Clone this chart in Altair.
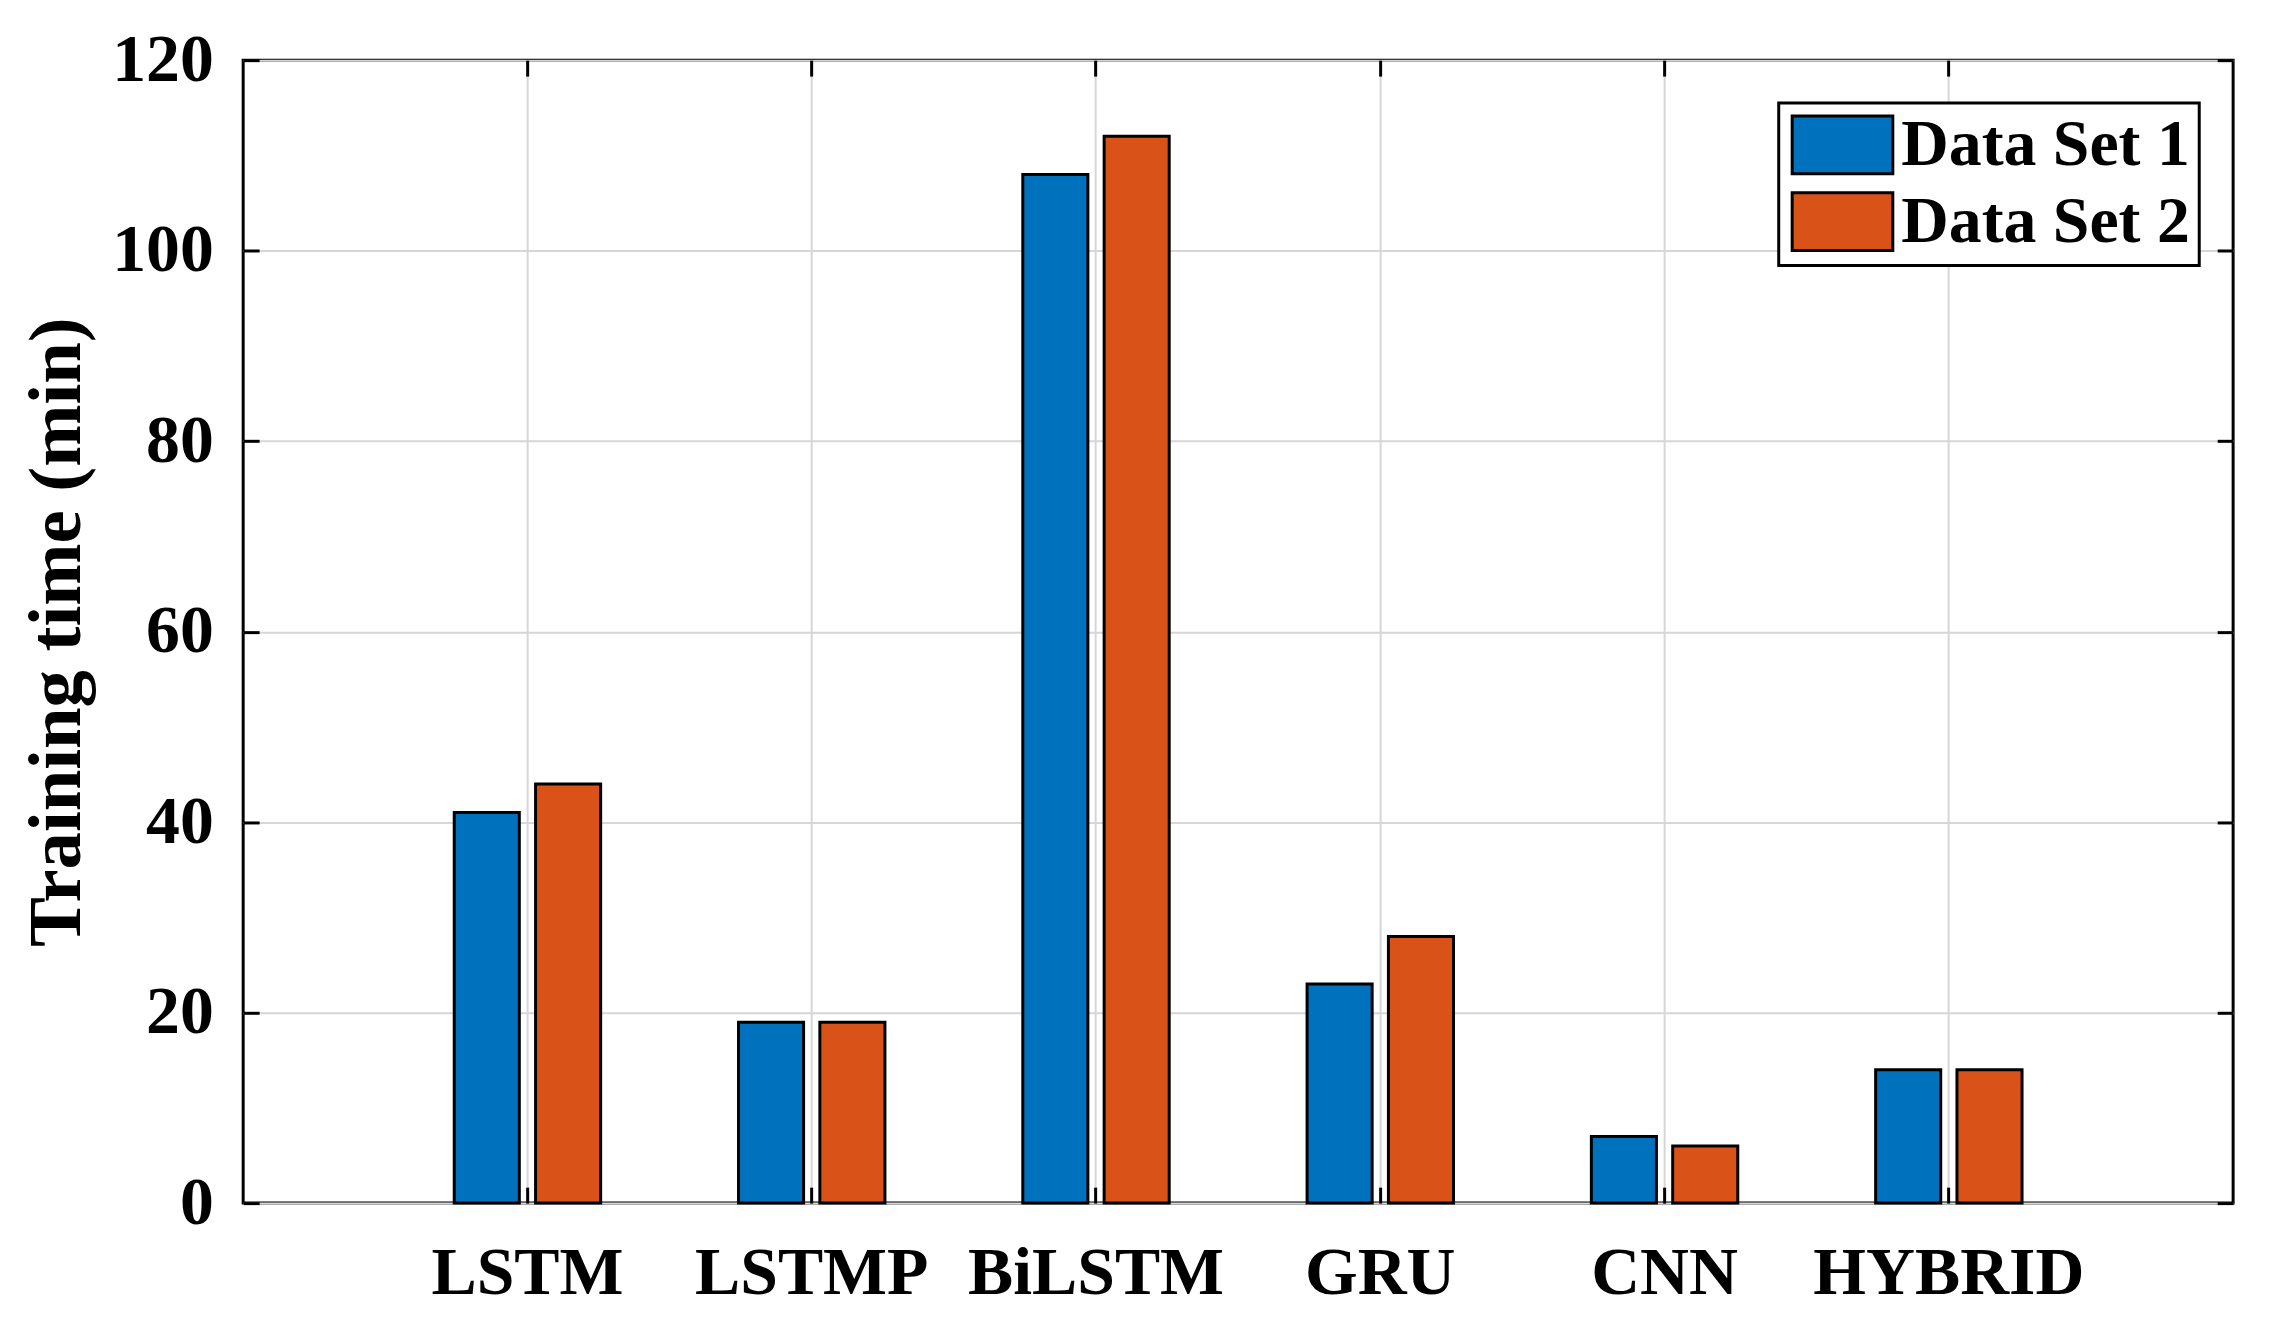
import altair as alt
import pandas as pd

models = ["LSTM", "LSTMP", "BiLSTM", "GRU", "CNN", "HYBRID"]
set1 = [41, 19, 108, 23, 7, 14]
set2 = [44, 19, 112, 28, 6, 14]
series = ["Data Set 1", "Data Set 2"]
colors = ["#0072BD", "#D95319"]
y_ticks = [0, 20, 40, 60, 80, 100, 120]

rows = []
for m, a, b in zip(models, set1, set2):
    rows.append({"model": m, "series": series[0], "value": a})
    rows.append({"model": m, "series": series[1], "value": b})
df = pd.DataFrame(rows)

FONT = "Liberation Serif"
W, H = 1997, 1147
TICK = 16

x_scale = alt.Scale(domain=models, paddingInner=0.485, paddingOuter=0.7425)
y_scale = alt.Scale(domain=[0, 120], nice=False)

bars = alt.Chart(df).mark_bar(stroke="black", strokeWidth=3, opacity=1).encode(
    x=alt.X("model:N", scale=x_scale, sort=models,
            axis=alt.Axis(title=None, labelAngle=0, domain=False, grid=True,
                          gridColor="#d6d6d6", gridWidth=2,
                          ticks=True, tickSize=TICK, tickWidth=3, tickColor="black",
                          offset=-TICK, labelPadding=37, labelLimit=0,
                          labelFont=FONT, labelFontWeight="bold", labelFontSize=68,
                          labelColor="black")),
    xOffset=alt.XOffset("series:N", sort=series,
                        scale=alt.Scale(paddingInner=0.2, paddingOuter=0)),
    y=alt.Y("value:Q", scale=y_scale,
            axis=alt.Axis(title="Training time (min)", values=y_ticks, domain=False,
                          grid=True, gridColor="#d6d6d6", gridWidth=2,
                          ticks=True, tickSize=TICK, tickWidth=3, tickColor="black",
                          offset=-TICK, labelPadding=30, labelLimit=0,
                          labelFont=FONT, labelFontWeight="bold", labelFontSize=68,
                          labelColor="black",
                          titleFont=FONT, titleFontWeight="bold", titleFontSize=75,
                          titleColor="black", titlePadding=16)),
    fill=alt.Fill("series:N", sort=series,
                  scale=alt.Scale(domain=series, range=colors),
                  legend=alt.Legend(title=None, orient="none",
                                    legendX=1541, legendY=43,
                                    strokeColor="black",
                                    fillColor="white", padding=9,
                                    symbolType="M-1.741,-1H1.741V1H-1.741Z",
                                    symbolSize=3364, symbolOffset=22,
                                    symbolStrokeColor="black",
                                    symbolStrokeWidth=3, symbolOpacity=1,
                                    labelFont=FONT, labelFontWeight="bold",
                                    labelFontSize=66, labelColor="black",
                                    labelLimit=0, labelOffset=26, rowPadding=7)),
)

mirror = alt.Chart(df).mark_bar(opacity=0).encode(
    x=alt.X("model:N", scale=x_scale, sort=models,
            axis=alt.Axis(orient="top", title=None, labels=False, domain=False,
                          grid=False, ticks=True, tickSize=TICK, tickWidth=3,
                          tickColor="black", offset=-TICK)),
    y=alt.Y("value:Q", scale=y_scale,
            axis=alt.Axis(orient="right", title=None, labels=False, domain=False,
                          values=y_ticks, grid=False, ticks=True, tickSize=TICK,
                          tickWidth=3, tickColor="black", offset=-TICK)),
)

chart = alt.layer(bars, mirror).resolve_axis(x="independent", y="independent").properties(
    width=W, height=H,
    autosize=alt.AutoSizeParams(type="none"),
    padding={"left": 236, "top": 50, "right": 33, "bottom": 127},
).configure_view(stroke="black", strokeWidth=3).configure_legend(strokeWidth=3)

chart.save("out.html", embed_options={"renderer": "svg", "actions": False})
